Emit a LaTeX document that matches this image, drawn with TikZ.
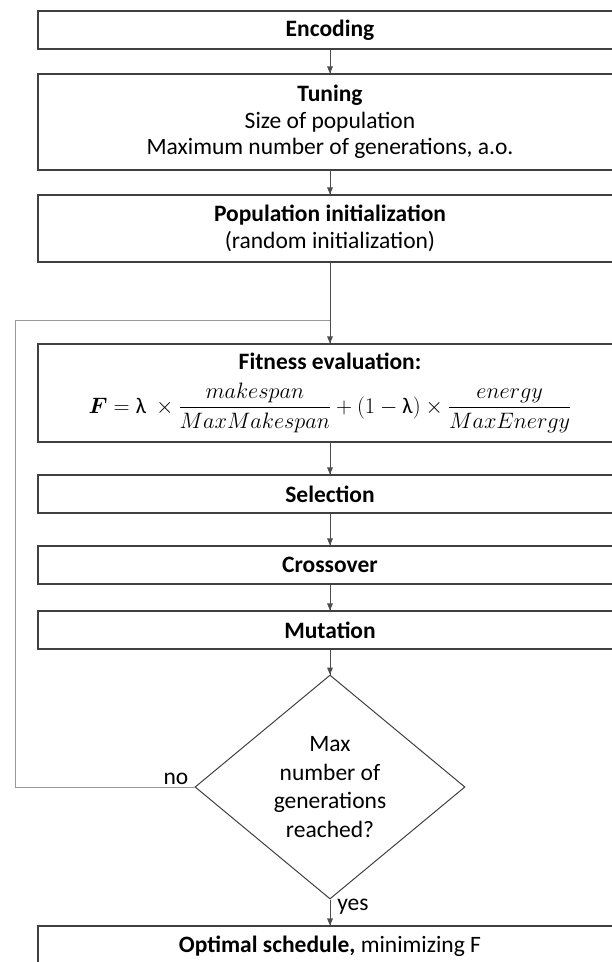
\RequirePackage{fix-cm}
\documentclass[tikz,border=0pt]{standalone}
\usepackage{fontspec}
\setmainfont{Carlito}
\usepackage{amsmath}
\usepackage{bm}
\usetikzlibrary{shapes.geometric}
\definecolor{boxgray}{HTML}{404040}
\definecolor{arrowgray}{HTML}{4D4D4D}
\definecolor{loopgray}{HTML}{999999}
\begin{document}
\begin{tikzpicture}[x=1pt,y=-1pt]
\tikzstyle{every node}+=[inner sep=0pt, font=\fontsize{23.5}{26.5}\selectfont]
\tikzstyle{stage}=[draw=boxgray, line width=1.2pt, minimum width=584pt, align=center]
\tikzstyle{test}=[draw=boxgray, line width=1pt, diamond, minimum width=270pt, minimum height=224pt, align=center]
\tikzstyle{flow}=[draw=arrowgray, line width=0.8pt]
\useasboundingbox (0,0) rectangle (612,962);
% boxes
\node [stage, minimum height=38pt] (enc) at (330,30) {\textbf{Encoding}};
\node [stage, minimum height=96pt] (tun) at (330,122) {\textbf{Tuning}\\Size of population\\Maximum number of generations, a.o.};
\node [stage, minimum height=67pt] (init) at (330,228.5) {\textbf{Population initialization}\\(random initialization)};
\node [stage, minimum height=98pt] (fit) at (330,393) {\textbf{Fitness evaluation:}\\[12pt]
{\fontsize{22.3}{26}\selectfont$\bm{F} = \textnormal{λ}\ \times \dfrac{makespan}{MaxMakespan} + (1 - \textnormal{λ}) \times \dfrac{energy}{MaxEnergy}$}};
\node [stage, minimum height=38pt] (sel) at (330,494) {\textbf{Selection}};
\node [stage, minimum height=38pt] (cross) at (330,565) {\textbf{Crossover}};
\node [stage, minimum height=38pt] (mut) at (330,630) {\textbf{Mutation}};
\node [test] (dec) at (330,787) {Max\\[2pt]number of\\[2pt]generations\\[2pt]reached?};
\node [stage, minimum height=40pt] (opt) at (330,946) {\textbf{Optimal schedule,} minimizing F};
% labels
\node (lblno) at (176,779) {no};
\node (lblyes) at (353,907) {yes};
% arrows
\draw [flow] (enc.south) -- (tun.north);
\fill [arrowgray] (tun.north) -- ++(-3,-7) -- ++(6,0) -- cycle;
\draw [flow] (tun.south) -- (init.north);
\fill [arrowgray] (init.north) -- ++(-3,-7) -- ++(6,0) -- cycle;
\draw [flow] (init.south) -- (fit.north);
\fill [arrowgray] (fit.north) -- ++(-3,-7) -- ++(6,0) -- cycle;
\draw [flow] (fit.south) -- (sel.north);
\fill [arrowgray] (sel.north) -- ++(-3,-7) -- ++(6,0) -- cycle;
\draw [flow] (sel.south) -- (cross.north);
\fill [arrowgray] (cross.north) -- ++(-3,-7) -- ++(6,0) -- cycle;
\draw [flow] (cross.south) -- (mut.north);
\fill [arrowgray] (mut.north) -- ++(-3,-7) -- ++(6,0) -- cycle;
\draw [flow] (mut.south) -- (dec.north);
\fill [arrowgray] (dec.north) -- ++(-3,-7) -- ++(6,0) -- cycle;
\draw [flow] (dec.south) -- (opt.north);
\fill [arrowgray] (opt.north) -- ++(-3,-7) -- ++(6,0) -- cycle;
% loop back
\coordinate (loopleft) at (15,320);
\coordinate (loopjoin) at (init.south |- loopleft);
\draw [loopgray, line width=0.8pt] (dec.west) -| (loopleft) -- (loopjoin);
\end{tikzpicture}
\end{document}
